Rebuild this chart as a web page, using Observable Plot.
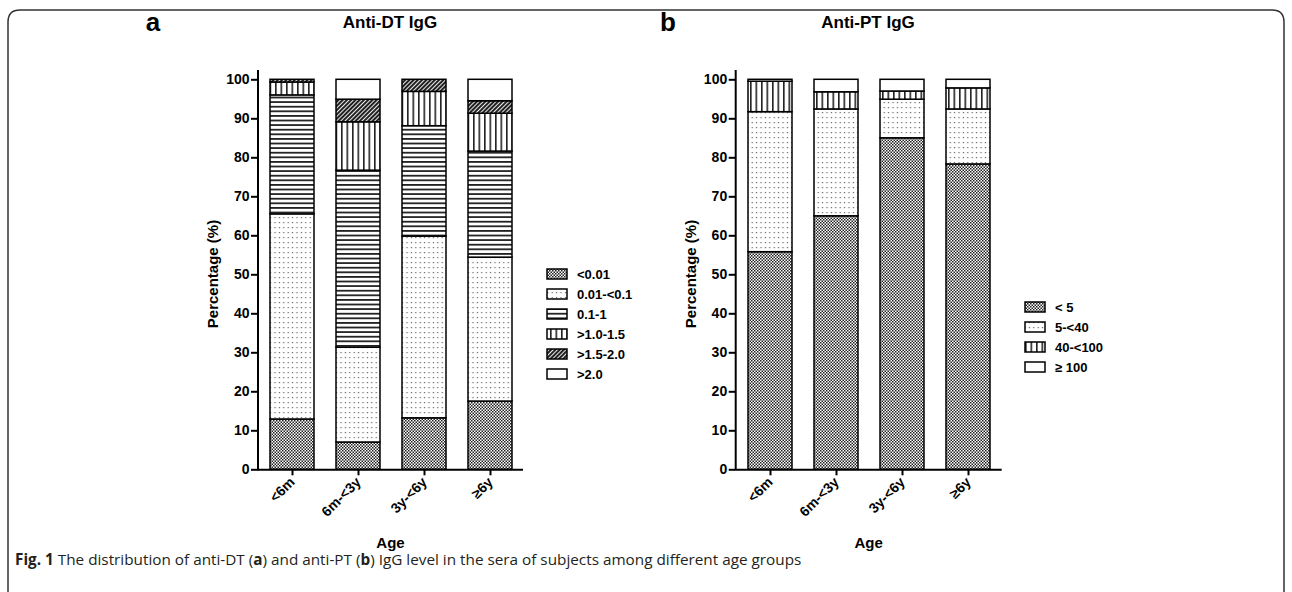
<!DOCTYPE html>
<html><head><meta charset="utf-8">
<script src="https://cdn.jsdelivr.net/npm/d3@7"></script>
<script src="https://cdn.jsdelivr.net/npm/@observablehq/plot@0.6"></script>
<style>
body{margin:0;background:#fff;}
#root{position:relative;width:1292px;height:592px;overflow:hidden;font-family:"Liberation Sans",Arial,sans-serif;}
.panel{position:absolute;top:0;}
.panel svg{overflow:visible;}
#border{position:absolute;left:0;top:0;}
#caption{position:absolute;left:15px;top:549px;font-family:"Open Sans","Liberation Sans",sans-serif;font-size:15.3px;line-height:20px;color:#231f20;white-space:nowrap;}
</style></head>
<body>
<div id="root">
<svg width="0" height="0" style="position:absolute">
<defs>
<pattern id="pChecker" width="3" height="3" patternUnits="userSpaceOnUse">
<rect width="3" height="3" fill="#fff"/>
<rect width="1.5" height="1.5" fill="#222"/>
<rect x="1.5" y="1.5" width="1.5" height="1.5" fill="#222"/>
</pattern>
<pattern id="pDots" width="4.4" height="5" patternUnits="userSpaceOnUse">
<rect width="4.4" height="5" fill="#fff"/>
<rect x="1.6" y="2" width="1.2" height="1.2" fill="#666"/>
</pattern>
<pattern id="pHoriz" width="6" height="4.6" patternUnits="userSpaceOnUse">
<rect width="6" height="4.6" fill="#fff"/>
<rect y="0" width="6" height="1.8" fill="#222"/>
</pattern>
<pattern id="pVert" width="5.5" height="6" patternUnits="userSpaceOnUse">
<rect width="5.5" height="6" fill="#fff"/>
<rect x="0" width="1.6" height="6" fill="#222"/>
</pattern>
<pattern id="pHatch" width="3" height="3" patternUnits="userSpaceOnUse" patternTransform="rotate(45)">
<rect width="3" height="3" fill="#fff"/>
<rect width="2.1" height="3" fill="#222"/>
</pattern>
</defs>
</svg>
<svg id="border" width="1292" height="592"><path d="M8,600 L8,22 Q8,10 20,10 L1272,10 Q1284,10 1284,22 L1284,600" fill="none" stroke="#333" stroke-width="1.5"/></svg>
<div id="pa" class="panel" style="left:0px"></div>
<div id="pb" class="panel" style="left:640px"></div>
<div id="caption"><b>Fig. 1</b> The distribution of anti-DT (<b>a</b>) and anti-PT (<b>b</b>) IgG level in the sera of subjects among different age groups</div>
</div>
<script>
// ---- data ----
const ages = ["<6m", "6m-<3y", "3y-<6y", "≥6y"];

const dtLevels = ["<0.01", "0.01-<0.1", "0.1-1", ">1.0-1.5", ">1.5-2.0", ">2.0"];
const dtLt001   = [12.9,  7.0, 13.2, 17.5];
const dt001to01 = [52.6, 24.3, 46.6, 36.9];
const dt01to1   = [30.5, 45.4, 28.3, 27.2];
const dt1to15   = [ 3.3, 12.4,  8.8,  9.7];
const dt15to2   = [ 0.7,  5.8,  3.1,  3.2];
const dtGt2     = [ 0.0,  5.1,  0.0,  5.5];

const ptLevels = ["< 5", "5-<40", "40-<100", "≥ 100"];
const ptLt5      = [55.8, 65.0, 85.0, 78.3];
const pt5to40    = [35.9, 27.4,  9.9, 14.1];
const pt40to100  = [ 7.8,  4.4,  2.1,  5.4];
const ptGe100    = [ 0.5,  3.2,  3.0,  2.2];

const yTicks = [0, 10, 20, 30, 40, 50, 60, 70, 80, 90, 100];

const dtFills = ["url(#pChecker)", "url(#pDots)", "url(#pHoriz)", "url(#pVert)", "url(#pHatch)", "#fff"];
const ptFills = ["url(#pChecker)", "url(#pDots)", "url(#pVert)", "#fff"];

function panel(cfg) {
  const {levels, series, fills, title, letter, left, width, axisX, rangeEnd,
         legendX, legendY, legendFont, letterX, titleX, yLabelX} = cfg;
  const data = [];
  ages.forEach((age, i) => levels.forEach((lev, j) => {
    const v = series[j][i];
    if (v > 0) data.push({age, level: lev, value: v, fill: fills[j]});
  }));
  const H = 592, top = 79.3, bottom = 469.3;
  const mL = axisX - left, mR = width - (rangeEnd - left);
  const plot = Plot.plot({
    width, height: H,
    marginLeft: mL, marginRight: mR, marginTop: top, marginBottom: H - bottom,
    x: {domain: ages, paddingInner: 0.335, paddingOuter: 0.167},
    y: {domain: [0, 100]},
    color: {type: "identity"},
    style: {fontFamily: "'Liberation Sans', Arial, sans-serif", fontSize: "14px", fontWeight: "bold", color: "black", background: "transparent"},
    marks: [
      Plot.barY(data, {x: "age", y: "value", fill: "fill", stroke: "black", strokeWidth: 1.5}),
      Plot.ruleY([0], {stroke: "black", strokeWidth: 2}),
      Plot.axisY({ticks: yTicks, tickSize: 7, tickPadding: 2, label: null, strokeWidth: 2}),
      Plot.axisX({tickSize: 6, tickRotate: -45, tickPadding: 4, label: null, strokeWidth: 2})
    ]
  });
  const svg = d3.select(plot);
  const ys = plot.scale("y");
  svg.append("line").attr("x1", mL).attr("x2", mL)
    .attr("y1", ys.apply(0) + 1).attr("y2", ys.apply(102.4))
    .attr("stroke", "black").attr("stroke-width", 2);
  const ff = "'Liberation Sans', Arial, sans-serif";
  svg.append("text").attr("x", letterX - left).attr("y", 31).attr("font-size", 26).attr("font-weight", "bold")
    .attr("text-anchor", "middle").attr("font-family", ff).attr("fill", "black").text(letter);
  svg.append("text").attr("x", titleX - left).attr("y", 28).attr("font-size", 17).attr("font-weight", "bold")
    .attr("text-anchor", "middle").attr("font-family", ff).attr("fill", "black").text(title);
  svg.append("text").attr("transform", `translate(${yLabelX - left},274) rotate(-90)`)
    .attr("font-size", 15).attr("font-weight", "bold").attr("text-anchor", "middle").attr("dy", "0.35em")
    .attr("font-family", ff).attr("fill", "black").text("Percentage (%)");
  svg.append("text").attr("x", (axisX + rangeEnd) / 2 - left).attr("y", 548).attr("font-size", 15)
    .attr("font-weight", "bold").attr("text-anchor", "middle").attr("font-family", ff).attr("fill", "black").text("Age");
  const lg = svg.append("g");
  levels.forEach((lev, j) => {
    const cy = legendY + j * 20;
    lg.append("rect").attr("x", legendX - left).attr("y", cy - 5).attr("width", 20).attr("height", 10)
      .attr("fill", fills[j]).attr("stroke", "black").attr("stroke-width", 1.5);
    lg.append("text").attr("x", legendX - left + 30).attr("y", cy).attr("dy", "0.35em")
      .attr("text-anchor", "start")
      .attr("font-size", 13).attr("font-weight", "bold").attr("font-family", legendFont).attr("fill", "black").text(lev);
  });
  return plot;
}

document.getElementById("pa").appendChild(panel({
  levels: dtLevels, series: [dtLt001, dt001to01, dt01to1, dt1to15, dt15to2, dtGt2], fills: dtFills,
  title: "Anti-DT IgG", letter: "a", left: 0, width: 680, axisX: 258, rangeEnd: 523,
  legendX: 547, legendY: 274, legendFont: "'Liberation Sans', Arial, sans-serif",
  letterX: 153, titleX: 390, yLabelX: 213
}));
document.getElementById("pb").appendChild(panel({
  levels: ptLevels, series: [ptLt5, pt5to40, pt40to100, ptGe100], fills: ptFills,
  title: "Anti-PT IgG", letter: "b", left: 640, width: 652, axisX: 735.7, rangeEnd: 1001.7,
  legendX: 1025, legendY: 307, legendFont: "'Liberation Sans Narrow', 'Liberation Sans', Arial, sans-serif",
  letterX: 668, titleX: 868, yLabelX: 691
}));
</script>
</body></html>
